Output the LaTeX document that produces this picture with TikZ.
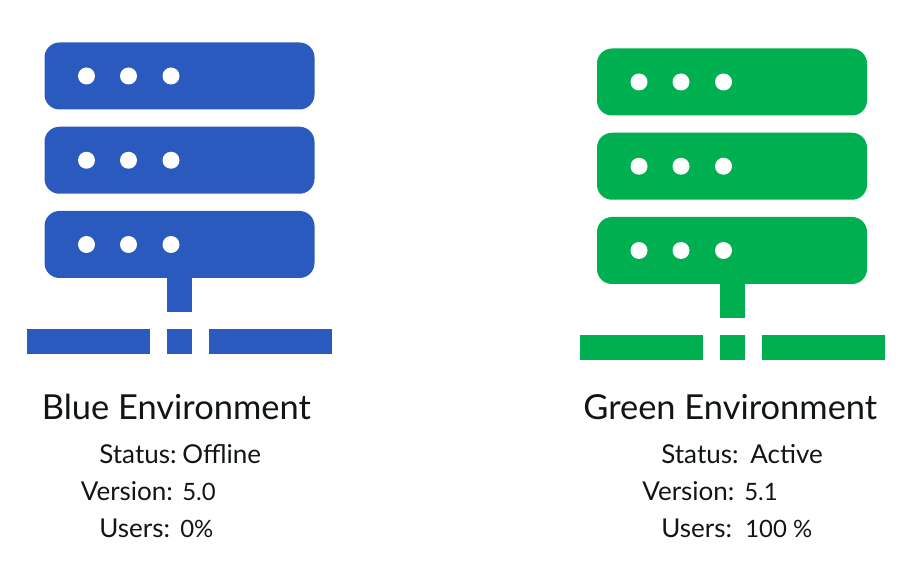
\documentclass[tikz,border=0pt]{standalone}
\usepackage{fontspec}
\setmainfont{Lato}
\usetikzlibrary{positioning, calc}
\definecolor{BlueEnv}{HTML}{2A5ABE}
\definecolor{GreenEnv}{HTML}{00B050}
\definecolor{TextDark}{HTML}{111516}
\tikzset{
  rackbox/.style={rectangle, rounded corners=0.3cm, fill=#1, minimum width=5.4cm, minimum height=1.34cm, inner sep=0pt, outer sep=0pt},
  rackdot/.style={circle, fill=white, minimum size=0.34cm, inner sep=0pt, outer sep=0pt},
  stembox/.style={rectangle, fill=#1, minimum width=0.5cm, minimum height=0.68cm, inner sep=0pt, outer sep=0pt},
  hubbox/.style={rectangle, fill=#1, minimum width=0.5cm, minimum height=0.5cm, inner sep=0pt, outer sep=0pt},
  barbox/.style={rectangle, fill=#1, minimum width=2.46cm, minimum height=0.5cm, inner sep=0pt, outer sep=0pt},
  titletext/.style={anchor=base west, inner sep=0pt, text=TextDark, font=\fontsize{19.6}{23}\selectfont},
  infotext/.style={anchor=base west, inner sep=0pt, text=TextDark, font=\fontsize{14.8}{17}\selectfont},
  numtext/.style={anchor=base west, inner sep=0pt, text=TextDark, font=\fontsize{13.6}{16}\selectfont}
}
\begin{document}
\begin{tikzpicture}
  \useasboundingbox (0,0) rectangle (18.32,11.28);

  % blue side
  \node[rackbox=BlueEnv] (blueA) at (3.59,9.76) {};
  \node[rackbox=BlueEnv, below=0.345cm of blueA] (blueB) {};
  \node[rackbox=BlueEnv, below=0.345cm of blueB] (blueC) {};
  \foreach \r in {blueA,blueB,blueC} {
    \node[rackdot] at ($(\r.west)+(0.84,0)$) {};
    \node[rackdot] at ($(\r.west)+(1.68,0)$) {};
    \node[rackdot] at ($(\r.west)+(2.53,0)$) {};
  }
  \node[stembox=BlueEnv, below=0cm of blueC] (bluestem) {};
  \node[hubbox=BlueEnv, below=0.34cm of bluestem] (bluehub) {};
  \node[barbox=BlueEnv, left=0.34cm of bluehub] (blueleft) {};
  \node[barbox=BlueEnv, right=0.34cm of bluehub] (blueright) {};

  \node[titletext] (bluetitle) at (0.83,2.88) {Blue Environment};
  \node[infotext] (bluestatus) at (1.98,2.0) {Status:};
  \node[infotext] (bluestatusval) at (3.64,2.0) {Offline};
  \node[infotext] (blueversion) at (1.61,1.27) {Version:};
  \node[numtext] (blueversionval) at (3.64,1.27) {5.0};
  \node[infotext] (blueusers) at (1.98,0.53) {Users:};
  \node[numtext] (blueusersval) at (3.6,0.53) {0\%};

  % green side
  \node[rackbox=GreenEnv] (greenA) at (14.64,9.64) {};
  \node[rackbox=GreenEnv, below=0.345cm of greenA] (greenB) {};
  \node[rackbox=GreenEnv, below=0.345cm of greenB] (greenC) {};
  \foreach \r in {greenA,greenB,greenC} {
    \node[rackdot] at ($(\r.west)+(0.84,0)$) {};
    \node[rackdot] at ($(\r.west)+(1.68,0)$) {};
    \node[rackdot] at ($(\r.west)+(2.53,0)$) {};
  }
  \node[stembox=GreenEnv, below=0cm of greenC] (greenstem) {};
  \node[hubbox=GreenEnv, below=0.34cm of greenstem] (greenhub) {};
  \node[barbox=GreenEnv, left=0.34cm of greenhub] (greenleft) {};
  \node[barbox=GreenEnv, right=0.34cm of greenhub] (greenright) {};

  \node[titletext] (greentitle) at (11.66,2.88) {Green Environment};
  \node[infotext] (greenstatus) at (13.22,2.0) {Status:};
  \node[infotext] (greenstatusval) at (15.0,2.0) {Active};
  \node[infotext] (greenversion) at (12.84,1.27) {Version:};
  \node[numtext] (greenversionval) at (14.88,1.27) {5.1};
  \node[infotext] (greenusers) at (13.22,0.53) {Users:};
  \node[numtext] (greenusersval) at (14.9,0.53) {100 \%};
\end{tikzpicture}
\end{document}
